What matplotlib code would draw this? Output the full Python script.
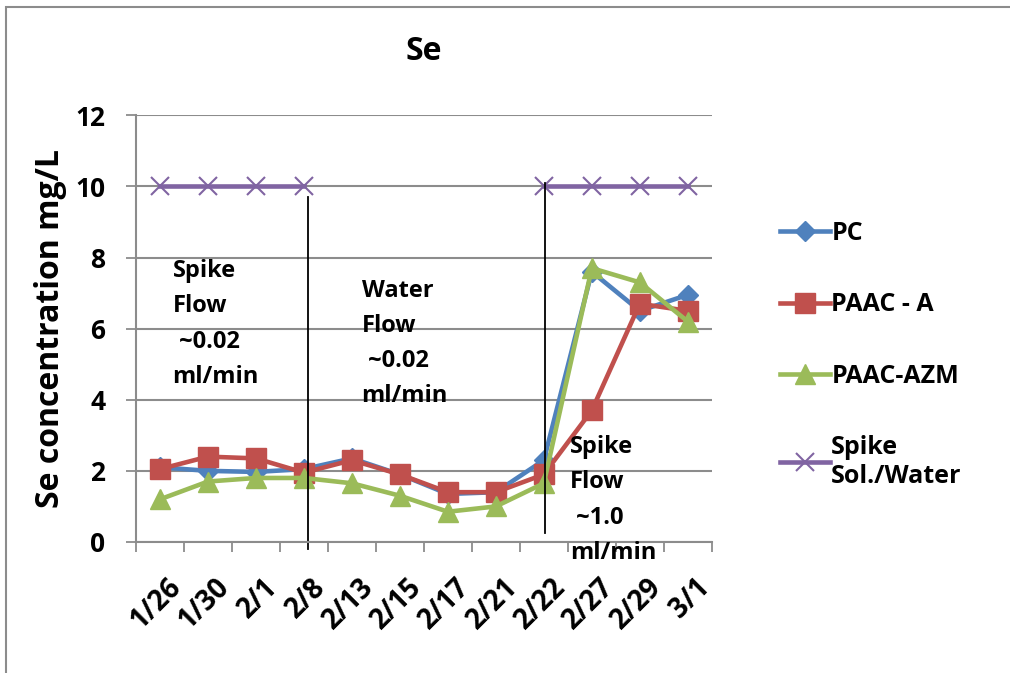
import matplotlib.pyplot as plt
import matplotlib.patches as mpatches
import matplotlib.transforms as mtrans
import numpy as np

plt.rcParams['font.family'] = ['Open Sans', 'DejaVu Sans']
plt.rcParams['font.weight'] = 'bold'

# data
dates = ['1/26', '1/30', '2/1', '2/8', '2/13', '2/15', '2/17', '2/21', '2/22', '2/27', '2/29', '3/1']
pc = [2.1, 2.0, 1.97, 2.05, 2.35, 1.9, 1.35, 1.4, 2.3, 7.6, 6.5, 6.95]
paac_a = [2.05, 2.4, 2.35, 1.95, 2.3, 1.9, 1.4, 1.4, 1.9, 3.7, 6.7, 6.5]
paac_azm = [1.2, 1.7, 1.8, 1.8, 1.65, 1.3, 0.85, 1.0, 1.65, 7.7, 7.3, 6.2]
spike = [10, 10, 10, 10, np.nan, np.nan, np.nan, np.nan, 10, 10, 10, 10]

x = np.arange(len(dates))

fig = plt.figure(figsize=(10.1, 6.73), dpi=100)
# outer chart border
fig.patches.append(mpatches.Rectangle((0.006, -0.1), 1.2, 1.09, transform=fig.transFigure,
                                      fill=False, edgecolor='#8c8c8c', linewidth=1.5))
ax = fig.add_axes([0.1347, 0.1947, 0.570, 0.634])

ax.plot(x, pc, color='#4F81BD', marker='D', markersize=10, linewidth=3.3, label='PC')
ax.plot(x, paac_a, color='#C0504D', marker='s', markersize=14, linewidth=3.3, label='PAAC - A')
ax.plot(x, paac_azm, color='#9BBB59', marker='^', markersize=15, linewidth=3.3, label='PAAC-AZM')
ax.plot(x, spike, color='#8064A2', marker='x', markersize=13, markeredgewidth=1.5,
        linewidth=3.3, label='Spike\nSol./Water')

# divider lines between flow regimes
ax.plot([3.08, 3.08], [9.7, -0.2], color='black', linewidth=1.3, clip_on=False)
ax.plot([8.03, 8.03], [10.1, 0.25], color='black', linewidth=1.3, clip_on=False)

note_kw = dict(fontsize=17, fontweight='bold', va='top', ha='left', linespacing=1.62, clip_on=False)
ax.text(0.26, 7.95, 'Spike\nFlow\n ~0.02\nml/min', **note_kw)
ax.text(4.2, 7.4, 'Water\nFlow\n ~0.02\nml/min', **note_kw)
ax.text(8.55, 3.0, 'Spike\nFlow\n ~1.0\nml/min', **note_kw)

ax.set_xlim(-0.5, 11.5)
ax.set_ylim(0, 12)
ax.set_yticks(range(0, 13, 2))
ax.set_xticks(x)
ax.set_xticklabels(dates, rotation=45, ha='right', rotation_mode='anchor', fontsize=20)
ax.set_xticks(np.arange(-0.5, 12, 1), minor=True)
ax.tick_params(axis='x', which='major', length=0, pad=22)
ax.tick_params(axis='x', which='minor', length=7, width=1.3, color='#8c8c8c')
ax.tick_params(axis='y', length=7, width=1.3, color='#8c8c8c', labelsize=19, pad=15)
shift = mtrans.ScaledTranslation(5 / 72, 0, fig.dpi_scale_trans)
for lab in ax.get_xticklabels():
    lab.set_transform(lab.get_transform() + shift)
for lab in ax.get_yticklabels() + ax.get_xticklabels():
    lab.set_fontweight('bold')

ax.grid(axis='y', color='#8c8c8c', linewidth=1.5)
ax.set_axisbelow(True)
for s in ['top', 'right']:
    ax.spines[s].set_visible(False)
ax.spines['left'].set_color('#8c8c8c')
ax.spines['left'].set_linewidth(1.5)
ax.spines['bottom'].set_color('#8c8c8c')
ax.spines['bottom'].set_linewidth(1.5)

ax.set_title('Se', fontsize=23, fontweight='bold', pad=40)
ax.set_ylabel('Se concentration mg/L', fontsize=23, fontweight='bold', labelpad=6)

leg = fig.legend(loc='upper left', bbox_to_anchor=(0.750, 0.705), frameon=False,
                 fontsize=18, handlelength=2.0, handletextpad=0.05, labelspacing=1.85)
for t in leg.get_texts():
    t.set_fontweight('bold')

fig.savefig('out.png', dpi=100)
